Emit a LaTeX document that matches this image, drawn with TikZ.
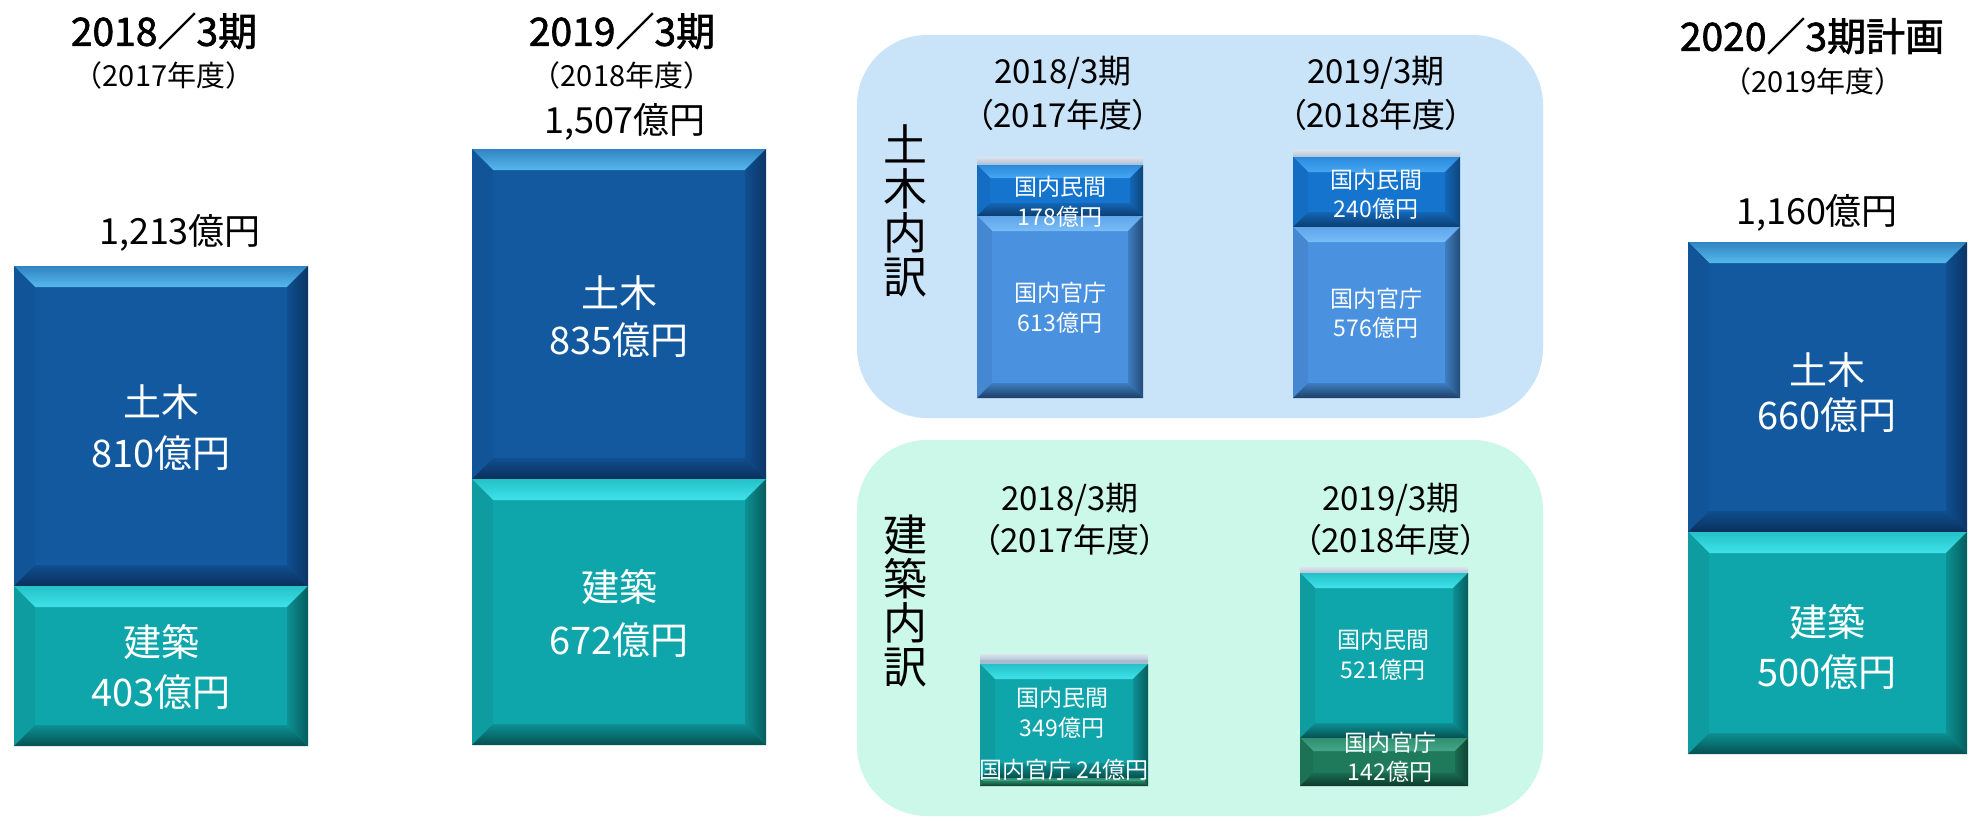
\documentclass[tikz,border=0pt]{standalone}
\usepackage{fontspec}
\setmainfont{Noto Sans CJK JP}
\newfontfamily\jpp{Noto Sans CJK JP}[RawFeature=+palt]
\newfontfamily\jpm{Noto Sans CJK JP}[FakeBold=1.6,RawFeature=+palt]
\definecolor{dbBase}{HTML}{1259A0}
\definecolor{dbLight}{HTML}{56B8EC}
\definecolor{dbDark}{HTML}{0A2F5C}
\definecolor{tlBase}{HTML}{0FA6AB}
\definecolor{tlLight}{HTML}{3FE2EA}
\definecolor{tlDark}{HTML}{05504F}
\definecolor{mbBase}{HTML}{1574CE}
\definecolor{mbLight}{HTML}{45A6F2}
\definecolor{mbDark}{HTML}{0C3D6E}
\definecolor{lbBase}{HTML}{4A92DF}
\definecolor{lbLight}{HTML}{78BCF7}
\definecolor{lbDark}{HTML}{1C3F66}
\definecolor{dgBase}{HTML}{1F7A5C}
\definecolor{dgLight}{HTML}{44A888}
\definecolor{dgDark}{HTML}{0B3B2C}
\definecolor{bandGray}{HTML}{A9BBD1}
\definecolor{panelBlue}{HTML}{C9E3F9}
\definecolor{panelMint}{HTML}{CCF8EA}
% bevelled box: x1 y1 x2 y2 base light dark bevel
\newcommand\bevbox[8]{%
  \fill[#5] (#1,#2) rectangle (#3,#4);
  \shade[top color=#5!55!#6, bottom color=#6] (#1,#2) -- (#3,#2) -- ({#3-#8},{#2+#8}) -- ({#1+#8},{#2+#8}) -- cycle;
  \fill[#5!88!#7] (#1,#2) -- ({#1+#8},{#2+#8}) -- ({#1+#8},{#4-#8}) -- (#1,#4) -- cycle;
  \shade[left color=#5!75!#7, right color=#7!85!#5] (#3,#2) -- ({#3-#8},{#2+#8}) -- ({#3-#8},{#4-#8}) -- (#3,#4) -- cycle;
  \shade[top color=#5!75!#7, bottom color=#7] (#1,#4) -- (#3,#4) -- ({#3-#8},{#4-#8}) -- ({#1+#8},{#4-#8}) -- cycle;
}
\newcommand\grayband[3]{% x1 x2 y1
  \shade[top color=bandGray!40!white, bottom color=bandGray] (#1,{#3}) rectangle (#2,{#3+8});
}
\begin{document}
\begin{tikzpicture}[x=1pt,y=-1pt,
  titlefont/.style={font=\jpm\fontsize{39}{44}\selectfont, inner sep=0pt},
  subfont/.style={font=\fontsize{29}{32}\selectfont, inner sep=0pt},
  totalfont/.style={font=\fontsize{36}{40}\selectfont, inner sep=0pt},
  barlbl/.style={text=white, font=\fontsize{38}{42}\selectfont, inner sep=0pt},
  phead/.style={font=\jpp\fontsize{33}{36}\selectfont, inner sep=0pt},
  plbl/.style={text=white, font=\fontsize{23}{26}\selectfont, inner sep=0pt},
  vlbl/.style={font=\fontsize{44}{44}\selectfont, align=center, inner sep=0pt}]
\useasboundingbox (0,0) rectangle (1971,820);
\fill[white] (0,0) rectangle (1971,820);

% ---------- column 1 : 2018/3
\node[titlefont] (t1) at (164,31) {2018／3期};
\node[subfont] (s1) at (164,75) {（2017年度）};
\node[totalfont] (tot1) at (180,233) {1,213億円};
\bevbox{14}{266}{308}{586}{dbBase}{dbLight}{dbDark}{21}
\bevbox{14}{586}{308}{746}{tlBase}{tlLight}{tlDark}{21}
\node[barlbl] (c1a) at (161,402) {土木};
\node[barlbl] (c1b) at (161,453) {810億円};
\node[barlbl] (c1c) at (161,642) {建築};
\node[barlbl] (c1d) at (161,692) {403億円};

% ---------- column 2 : 2019/3
\node[titlefont] (t2) at (622,31) {2019／3期};
\node[subfont] (s2) at (622,75) {（2018年度）};
\node[totalfont] (tot2) at (625,122) {1,507億円};
\bevbox{472}{149}{766}{479}{dbBase}{dbLight}{dbDark}{21}
\bevbox{472}{479}{766}{745}{tlBase}{tlLight}{tlDark}{21}
\node[barlbl] (c2a) at (619,293) {土木};
\node[barlbl] (c2b) at (619,340) {835億円};
\node[barlbl] (c2c) at (619,587) {建築};
\node[barlbl] (c2d) at (619,640) {672億円};

% ---------- civil breakdown panel
\fill[panelBlue, rounded corners=70pt] (857,35) rectangle (1543,418);
\node[vlbl] (v1) at (905,211) {土\\木\\内\\訳};
\node[phead] (h1a) at (1063,73) {2018/3期};
\node[phead] (h1b) at (1063,115) {（2017年度）};
\node[phead] (h1c) at (1376,73) {2019/3期};
\node[phead] (h1d) at (1376,115) {（2018年度）};
\grayband{977}{1143}{157}
\bevbox{977}{165}{1143}{216}{mbBase}{mbLight}{mbDark}{13}
\bevbox{977}{216}{1143}{398}{lbBase}{lbLight}{lbDark}{15}
\node[plbl] (p1a) at (1060,187) {国内民間};
\node[plbl] (p1b) at (1060,217) {178億円};
\node[plbl] (p1c) at (1060,293) {国内官庁};
\node[plbl] (p1d) at (1060,323) {613億円};
\grayband{1293}{1460}{150}
\bevbox{1293}{157}{1460}{227}{mbBase}{mbLight}{mbDark}{15}
\bevbox{1293}{227}{1460}{398}{lbBase}{lbLight}{lbDark}{15}
\node[plbl] (p2a) at (1376,180) {国内民間};
\node[plbl] (p2b) at (1376,209) {240億円};
\node[plbl] (p2c) at (1376,299) {国内官庁};
\node[plbl] (p2d) at (1376,328) {576億円};

% ---------- building breakdown panel
\fill[panelMint, rounded corners=70pt] (857,440) rectangle (1543,816);
\node[vlbl] (v2) at (905,601) {建\\築\\内\\訳};
\node[phead] (h2a) at (1070,500) {2018/3期};
\node[phead] (h2b) at (1070,540) {（2017年度）};
\node[phead] (h2c) at (1391,500) {2019/3期};
\node[phead] (h2d) at (1391,540) {（2018年度）};
\grayband{980}{1148}{654}
\fill[bandGray] (980,660) rectangle (1148,664);
\bevbox{980}{664}{1148}{778}{tlBase}{tlLight}{tlDark}{15}
\bevbox{980}{778}{1148}{786}{dgBase}{dgLight}{dgDark}{3}
\node[plbl] (p3a) at (1062,698) {国内民間};
\node[plbl] (p3b) at (1062,728) {349億円};
\node[plbl] (p3c) at (1064,770) {国内官庁 24億円};
\grayband{1300}{1468}{567}
\bevbox{1300}{573}{1468}{738}{tlBase}{tlLight}{tlDark}{15}
\bevbox{1300}{738}{1468}{786}{dgBase}{dgLight}{dgDark}{13}
\node[plbl] (p4a) at (1383,640) {国内民間};
\node[plbl] (p4b) at (1383,670) {521億円};
\node[plbl] (p4c) at (1390,743) {国内官庁};
\node[plbl] (p4d) at (1390,772) {142億円};

% ---------- column 3 : 2020/3 plan
\node[titlefont] (t3) at (1812,36) {2020／3期計画};
\node[subfont] (s3) at (1813,81) {（2019年度）};
\node[totalfont] (tot3) at (1817,213) {1,160億円};
\bevbox{1688}{242}{1967}{532}{dbBase}{dbLight}{dbDark}{21}
\bevbox{1688}{532}{1967}{754}{tlBase}{tlLight}{tlDark}{21}
\node[barlbl] (c3a) at (1827,370) {土木};
\node[barlbl] (c3b) at (1827,415) {660億円};
\node[barlbl] (c3c) at (1827,622) {建築};
\node[barlbl] (c3d) at (1827,672) {500億円};
\end{tikzpicture}
\end{document}
